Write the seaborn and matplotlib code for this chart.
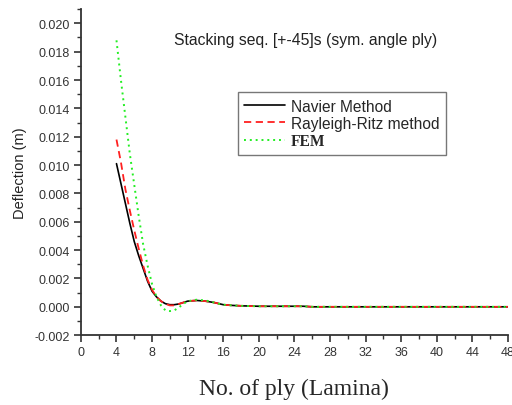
import pandas as pd
import matplotlib
matplotlib.use("Agg")
import matplotlib.pyplot as plt
from matplotlib.ticker import MultipleLocator, FormatStrFormatter
from matplotlib.font_manager import FontProperties
import seaborn as sns

# ==========================================
# DATA
# ==========================================

ply = [4, 4.5, 5, 5.5, 6, 6.5, 7, 7.5, 8, 8.5, 9, 9.5, 10, 10.5, 11, 11.5, 12,
       13, 14, 15, 16, 17, 18, 20, 22, 24, 25, 26, 28, 30, 32, 34, 36, 38,
       40, 42, 44, 46, 48]

navier = [0.0101, 0.0087, 0.0073, 0.0059, 0.0046, 0.0036, 0.0027, 0.0018,
          0.0011, 0.0007, 0.0004, 0.00022, 0.00015, 0.00015, 0.0002, 0.0003,
          0.0004, 0.00045, 0.0004, 0.0003, 0.00015, 0.0001, 0.00007, 0.00004,
          0.00004, 0.00004, 0.00004, 0.0, 0.0, 0.0, 0.0, 0.0, 0.0, 0.0,
          0.0, 0.0, 0.0, 0.0, 0.0]

rayleigh_ritz = [0.0118, 0.0102, 0.0083, 0.0068, 0.0054, 0.0041, 0.0029, 0.0019,
                 0.0012, 0.0007, 0.0004, 0.0002, 0.0001, 0.0001, 0.0002, 0.0003,
                 0.0004, 0.00045, 0.0004, 0.0003, 0.00015, 0.0001, 0.00007, 0.00004,
                 0.00004, 0.00004, 0.00004, 0.0, 0.0, 0.0, 0.0, 0.0, 0.0, 0.0,
                 0.0, 0.0, 0.0, 0.0, 0.0]

fem = [0.0188, 0.0160, 0.0134, 0.0108, 0.0086, 0.0064, 0.0044, 0.0029,
       0.0016, 0.0007, 0.0001, -0.00025, -0.0003, -0.00025, -0.00005, 0.0002,
       0.0004, 0.0005, 0.00045, 0.0003, 0.00015, 0.0001, 0.00007, 0.00004,
       0.00004, 0.00004, 0.00004, 0.0, 0.0, 0.0, 0.0, 0.0, 0.0, 0.0,
       0.0, 0.0, 0.0, 0.0, 0.0]

df = pd.DataFrame({"ply": ply, "navier": navier, "rr": rayleigh_ritz, "fem": fem})

# ==========================================
# STYLE
# ==========================================

sns.set_style("ticks")
plt.rcParams['font.family'] = ['Liberation Sans', 'DejaVu Sans']

fig = plt.figure(figsize=(5.12, 4.06), dpi=100)
ax = fig.add_axes([0.158, 0.172, 0.834, 0.803])

# ==========================================
# LINES
# ==========================================

sns.lineplot(x="ply", y="navier", data=df, ax=ax, color="black",
             linewidth=1.2, label="Navier Method")
sns.lineplot(x="ply", y="rr", data=df, ax=ax, color="#ff2020",
             linewidth=1.3, label="Rayleigh-Ritz method")
ax.lines[-1].set_dashes([4, 2.5])
sns.lineplot(x="ply", y="fem", data=df, ax=ax, color="#22ee22",
             linewidth=1.4, label="FEM")
ax.lines[-1].set_dashes([1, 2])

# ==========================================
# AXES
# ==========================================

ax.set_xlim(0, 48)
ax.set_ylim(-0.002, 0.021)
ax.xaxis.set_major_locator(MultipleLocator(4))
ax.xaxis.set_minor_locator(MultipleLocator(2))
ax.yaxis.set_major_locator(MultipleLocator(0.002))
ax.yaxis.set_minor_locator(MultipleLocator(0.001))
ax.yaxis.set_major_formatter(FormatStrFormatter('%.3f'))

for side in ["top", "right"]:
    ax.spines[side].set_visible(False)
for side in ["left", "bottom"]:
    ax.spines[side].set_linewidth(1.3)
    ax.spines[side].set_color("#333333")

ax.tick_params(which="major", length=5, width=1.2, color="#333333",
               labelsize=9, labelcolor="#333333", pad=3)
ax.tick_params(which="minor", length=3, width=1.0, color="#333333")

ax.set_ylabel("Deflection (m)", fontsize=10.5, color="#222222", labelpad=5)
ax.set_xlabel("No. of ply (Lamina)", fontsize=17, family="Liberation Serif",
              labelpad=14)

ax.text(0.527, 0.908, "Stacking seq. [+-45]s (sym. angle ply)",
        transform=ax.transAxes, ha="center", va="center", fontsize=11.3,
        color="#222222")

leg = ax.legend(loc="upper left", bbox_to_anchor=(0.368, 0.745), frameon=True,
                fancybox=False, edgecolor="#555555", fontsize=11.2,
                handlelength=2.6, handletextpad=0.4, borderpad=0.4,
                labelspacing=0.15, borderaxespad=0)
leg.get_frame().set_linewidth(1.0)
leg.get_texts()[2].set_fontproperties(
    FontProperties(family="Liberation Serif", weight="bold", size=11.2))

fig.savefig("out.png", dpi=100)
